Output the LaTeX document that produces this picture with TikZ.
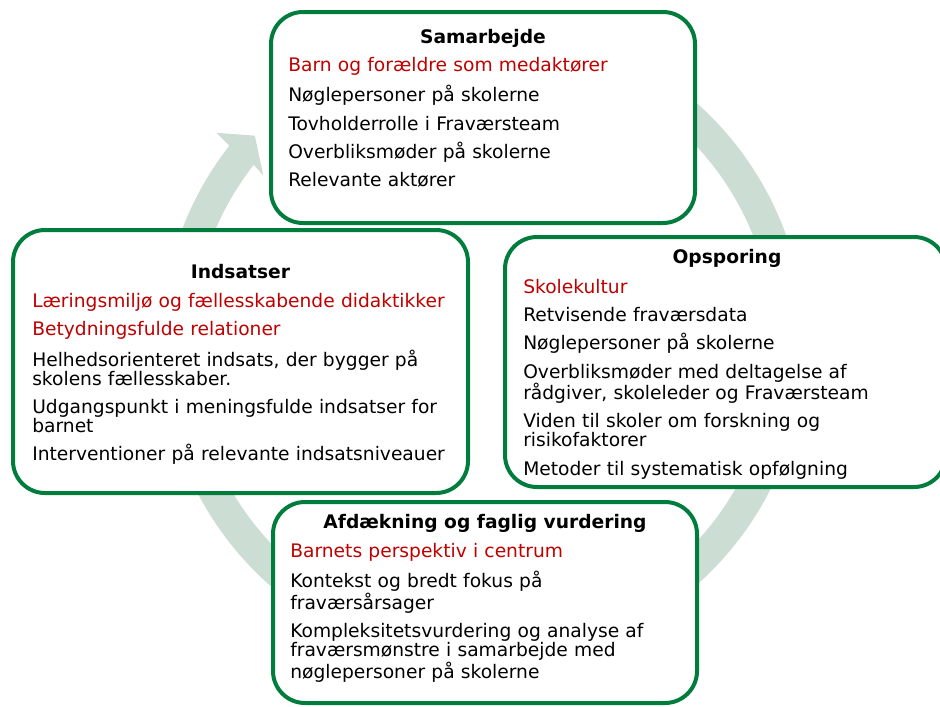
\documentclass[tikz,border=0pt]{standalone}
\usepackage{fontspec}
\setmainfont{DejaVu Sans}
\usetikzlibrary{positioning}

\definecolor{framegreen}{RGB}{0,125,60}
\definecolor{ringgreen}{RGB}{204,222,211}
\definecolor{itemred}{RGB}{192,0,0}

\begin{document}
\begin{tikzpicture}[x=0.75pt,y=-0.75pt,
  font=\fontsize{14}{14.25}\selectfont,
  stepbox/.style={draw=framegreen,line width=3pt,fill=white,rounded corners=24pt},
  boxtitle/.style={font=\fontsize{14}{14.25}\selectfont\bfseries,anchor=base,inner sep=0pt},
  boxtext/.style={anchor=base west,inner sep=0pt,align=left,text width=330pt}]
  \def \rout {322}
  \def \rin {291}
  \useasboundingbox (0,0) rectangle (940,707);

  % the cycle behind the boxes
  \begin{scope}[shift={(483,344)}]
    \fill[ringgreen] (-80:\rout) arc[start angle=-80,end angle=218,radius=\rout]
      -- (218.4:340) -- (222.4:309) -- (217.5:277)
      -- (218:\rin) arc[start angle=218,end angle=-80,radius=\rin] -- cycle;
  \end{scope}

  \node[stepbox,minimum width=318pt,minimum height=158.25pt] (samarbejde) at (483,117.5) {};
  \node[stepbox,minimum width=341.25pt,minimum height=197.25pt] (indsatser) at (240.5,361.5) {};
  \node[stepbox,minimum width=330.75pt,minimum height=187.5pt] (opsporing) at (725.5,362) {};
  \node[stepbox,minimum width=318pt,minimum height=150.75pt] (afdaekning) at (485,602.5) {};

  \node[boxtitle] (samarbejde title) at (483,43) {Samarbejde};
  \node[boxtext] (samarbejde text) at (288,71) {%
    {\color{itemred}Barn og forældre som medaktører}\\[7pt]
    Nøglepersoner på skolerne\\[7pt]
    Tovholderrolle i Fraværsteam\\[7pt]
    Overbliksmøder på skolerne\\[7pt]
    Relevante aktører};

  \node[boxtitle] (indsatser title) at (240.5,278) {Indsatser};
  \node[boxtext] (indsatser text) at (32,307) {%
    {\color{itemred}Læringsmiljø og fællesskabende didaktikker}\\[7pt]
    {\color{itemred}Betydningsfulde relationer}\\[7pt]
    Helhedsorienteret indsats, der bygger på\\
    skolens fællesskaber.\\[7pt]
    Udgangspunkt i meningsfulde indsatser for\\
    barnet\\[7pt]
    Interventioner på relevante indsatsniveauer};

  \node[boxtitle] (opsporing title) at (727,263) {Opsporing};
  \node[boxtext] (opsporing text) at (523,293) {%
    {\color{itemred}Skolekultur}\\[7pt]
    Retvisende fraværsdata\\[7pt]
    Nøglepersoner på skolerne\\[7pt]
    Overbliksmøder med deltagelse af\\
    rådgiver, skoleleder og Fraværsteam\\[7pt]
    Viden til skoler om forskning og\\
    risikofaktorer\\[7pt]
    Metoder til systematisk opfølgning};

  \node[boxtitle] (afdaekning title) at (485,528) {Afdækning og faglig vurdering};
  \node[boxtext] (afdaekning text) at (290,557) {%
    {\color{itemred}Barnets perspektiv i centrum}\\[7pt]
    Kontekst og bredt fokus på\\
    fraværsårsager\\[7pt]
    Kompleksitetsvurdering og analyse af\\
    fraværsmønstre i samarbejde med\\
    nøglepersoner på skolerne};
\end{tikzpicture}
\end{document}
